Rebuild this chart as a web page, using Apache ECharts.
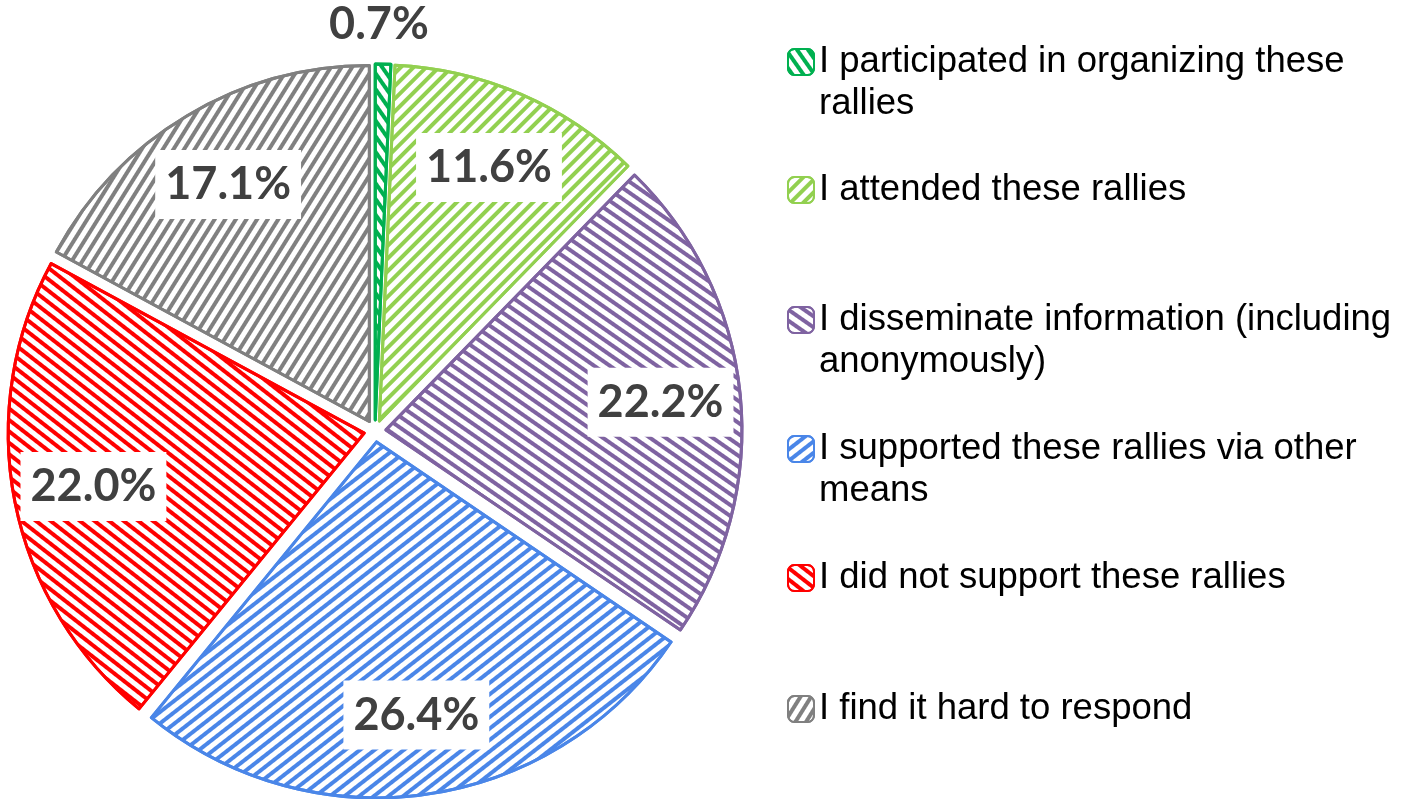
<!DOCTYPE html>
<html><head><meta charset="utf-8">
<script src="https://cdn.jsdelivr.net/npm/echarts@6/dist/echarts.min.js"></script>
<style>html,body{margin:0;padding:0;background:#fff}#main{width:1406px;height:799px}</style>
</head><body><div id="main"></div>
<script>
// ---- data ----
const categories = [
  'I participated in organizing these\nrallies',
  'I attended these rallies',
  'I disseminate information (including\nanonymously)',
  'I supported these rallies via other\nmeans',
  'I did not support these rallies',
  'I find it hard to respond'
];
const values = [0.7, 11.6, 22.2, 26.4, 22.0, 17.1];

// ---- styles ----
const colors = ['#00B050', '#92D050', '#7F63A1', '#4A86E8', '#FF0000', '#808080'];
const hatchDeg = [-55, 45, -35, 38, -38, 58];   // stripe angle; + = "/" , - = "\"
const legendIconCenters = [62, 190, 320, 449, 578, 709];

const CX = 375, CY = 431, R = 356, OFFSET = 11;

function hatch(i) {
  return {
    symbol: 'rect', symbolSize: 1,
    dashArrayX: [1, 0],
    dashArrayY: [3.5, 5],
    rotation: -hatchDeg[i] * Math.PI / 180,
    color: colors[i]
  };
}

const mainData = categories.map((name, i) => ({
  name, value: values[i], selected: true,
  itemStyle: {color: '#ffffff', borderColor: colors[i], borderWidth: 3, decal: hatch(i)}
}));

const labelData = categories.map((name, i) => {
  const d = {name, value: values[i], selected: true};
  if (i === 0) {
    d.label = {position: 'outside', backgroundColor: 'transparent', padding: 0};
    d.labelLine = {show: false, length: 40, length2: 0};
  }
  return d;
});

const chart = echarts.init(document.getElementById('main'), null, {renderer: 'canvas'});
chart.setOption({
  animation: false,
  backgroundColor: '#ffffff',
  legend: categories.map((name, i) => {
    const twoLine = name.indexOf('\n') >= 0;
    return {
      data: [name],
      formatter: n => (twoLine ? '\n' : '') + n,
      left: 787,
      top: legendIconCenters[i] - 13 - (twoLine ? 50 : 8),
      orient: 'vertical', padding: 0, itemGap: 0,
      itemWidth: 26, itemHeight: 26, icon: 'roundRect',
      selectedMode: false,
      textStyle: {fontFamily: 'Liberation Sans, Arial, sans-serif', fontSize: 36.5, color: '#000000', lineHeight: 42}
    };
  }),
  series: [
    {
      type: 'pie', center: [CX, CY], radius: [0, R], startAngle: 90, clockwise: true,
      selectedMode: 'multiple', selectedOffset: OFFSET, silent: true,
      avoidLabelOverlap: false,
      label: {show: false}, labelLine: {show: false},
      emphasis: {disabled: true},
      data: mainData
    },
    {
      type: 'pie', center: [CX, CY], radius: [190, R], startAngle: 90, clockwise: true,
      selectedMode: 'multiple', selectedOffset: OFFSET, silent: true,
      avoidLabelOverlap: false,
      itemStyle: {color: 'rgba(0,0,0,0)', borderWidth: 0},
      emphasis: {disabled: true},
      label: {
        show: true, position: 'inside',
        formatter: p => p.value.toFixed(1) + '%',
        fontFamily: 'Lato, "Open Sans", sans-serif', fontWeight: 'bold', fontSize: 45,
        color: '#404040', backgroundColor: '#ffffff', padding: [13, 10, 11, 10]
      },
      labelLine: {show: false},
      labelLayout: function (p) {
        if (p.dataIndex === 0) return {align: 'center', dx: -10};
        return {};
      },
      data: labelData
    }
  ]
});
</script>
</body></html>
